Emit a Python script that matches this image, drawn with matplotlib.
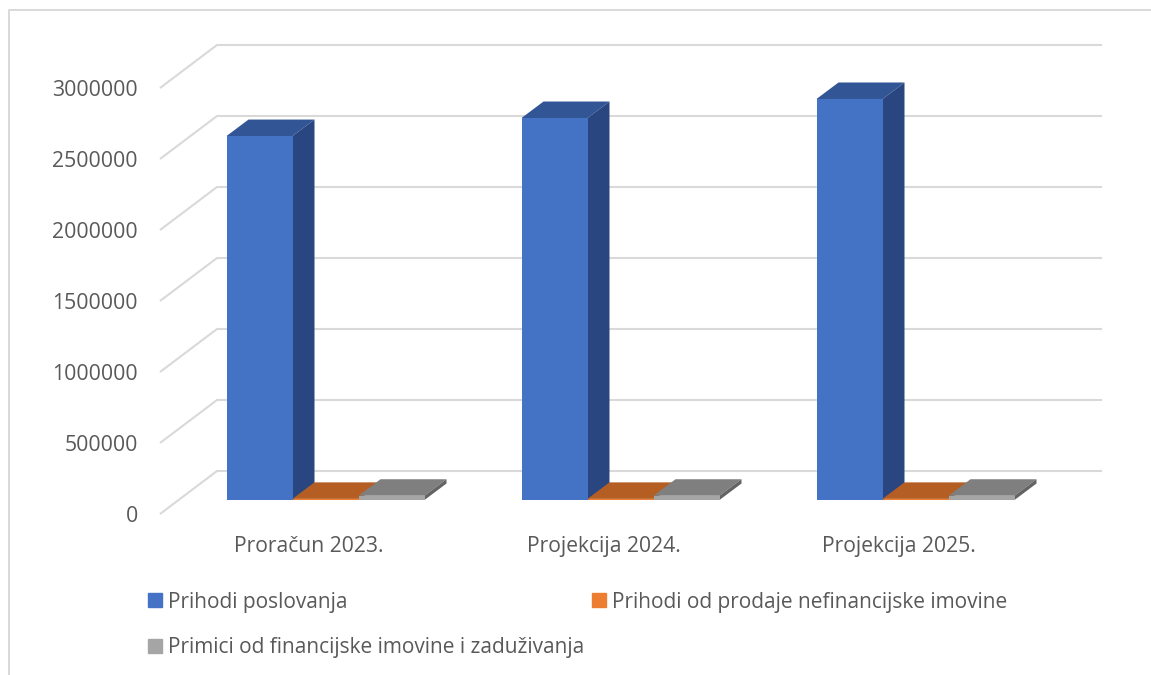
import matplotlib
matplotlib.use("Agg")
import matplotlib.pyplot as plt
from matplotlib.patches import Patch
from matplotlib.lines import Line2D

categories = ["Proračun 2023.", "Projekcija 2024.", "Projekcija 2025."]
series_names = ["Prihodi poslovanja", "Prihodi od prodaje nefinancijske imovine",
                "Primici od financijske imovine i zaduživanja"]
prihodi_poslovanja = [2563000, 2690000, 2824000]
prihodi_nefin = [8000, 8000, 8000]
primici_fin = [30000, 30000, 30000]
y_ticks = [0, 500000, 1000000, 1500000, 2000000, 2500000, 3000000]

front_cols = ["#4472C4", "#ED7D31", "#A5A5A5"]
top_cols = ["#325596", "#B55E23", "#7F7F7F"]
side_cols = ["#2A4680", "#9A4F1D", "#636363"]
grid_col = "#D9D9D9"
text_col = "#595959"
FONT = "Open Sans"

W, H = 1151, 675
fig = plt.figure(figsize=(W / 100, H / 100), dpi=100)
# axes = front plane of the 3D box, in pixel terms
L, R, T, B = 160, 1102, 45, 514
ax = fig.add_axes([L / W, 1 - B / H, (R - L) / W, (B - T) / H])
PX_V = 500000 / 71.0   # value per pixel
PX_X = 1 / 295.0       # category per pixel
X0 = 309
ax.set_xlim((L - X0) * PX_X, (R - X0) * PX_X)
ax.set_ylim(0, (B - T) * PX_V)
for s in ax.spines.values():
    s.set_visible(False)

# walls: slanted gridline plus back-wall gridline
for t in y_ticks:
    xl = ax.get_xlim()[0]
    xr = ax.get_xlim()[1]
    ax.plot([xl, xl + 57 * PX_X, xr], [t, t + 43 * PX_V, t + 43 * PX_V],
            color=grid_col, lw=1.5, zorder=1, clip_on=False, solid_capstyle="butt")

ax.set_yticks(y_ticks)
ax.set_yticklabels([str(t) for t in y_ticks], fontsize=15.3, color=text_col, family=FONT)
ax.set_xticks(range(len(categories)))
ax.set_xticklabels(categories, fontsize=15.2, color=text_col, family=FONT)
ax.tick_params(axis="y", length=0, pad=16)
ax.tick_params(axis="x", length=0, pad=16)

bw = 66 * PX_X
offx, offy = 16.5 * PX_X, 14 * PX_V
dx, dy = 22 * PX_X, 16.5 * PX_V
series = [prihodi_poslovanja, prihodi_nefin, primici_fin]
for j, vals in enumerate(series):
    for i, v in enumerate(vals):
        x0 = i + offx + (j - 1.5) * bw
        x1 = x0 + bw
        b = offy
        t = offy + v
        ax.fill([x0, x1, x1 + dx, x0 + dx], [t, t, t + dy, t + dy], color=top_cols[j], lw=0, zorder=3 + j)
        ax.fill([x1, x1 + dx, x1 + dx, x1], [b, b + dy, t + dy, t], color=side_cols[j], lw=0, zorder=3 + j)
        ax.bar(x0, v, width=bw, bottom=b, align="edge", color=front_cols[j], lw=0, zorder=3 + j)

# chart frame
fig.add_artist(Line2D([9 / W, 9 / W, 1], [0, 1 - 10 / H, 1 - 10 / H],
                      color=grid_col, lw=1.4))

# legend
handles = [Patch(color=c) for c in front_cols]
order = [0, 2, 1]
fig.legend([handles[k] for k in order], [series_names[k] for k in order], ncol=2,
           loc="lower left", bbox_to_anchor=(148 / W, 1 - 658 / H), frameon=False,
           prop={"family": FONT, "size": 15}, labelcolor=text_col,
           handlelength=0.67, handleheight=0.67, handletextpad=0.27,
           columnspacing=0.4, labelspacing=1.17, borderpad=0, borderaxespad=0)

fig.savefig("out.png", dpi=100)
